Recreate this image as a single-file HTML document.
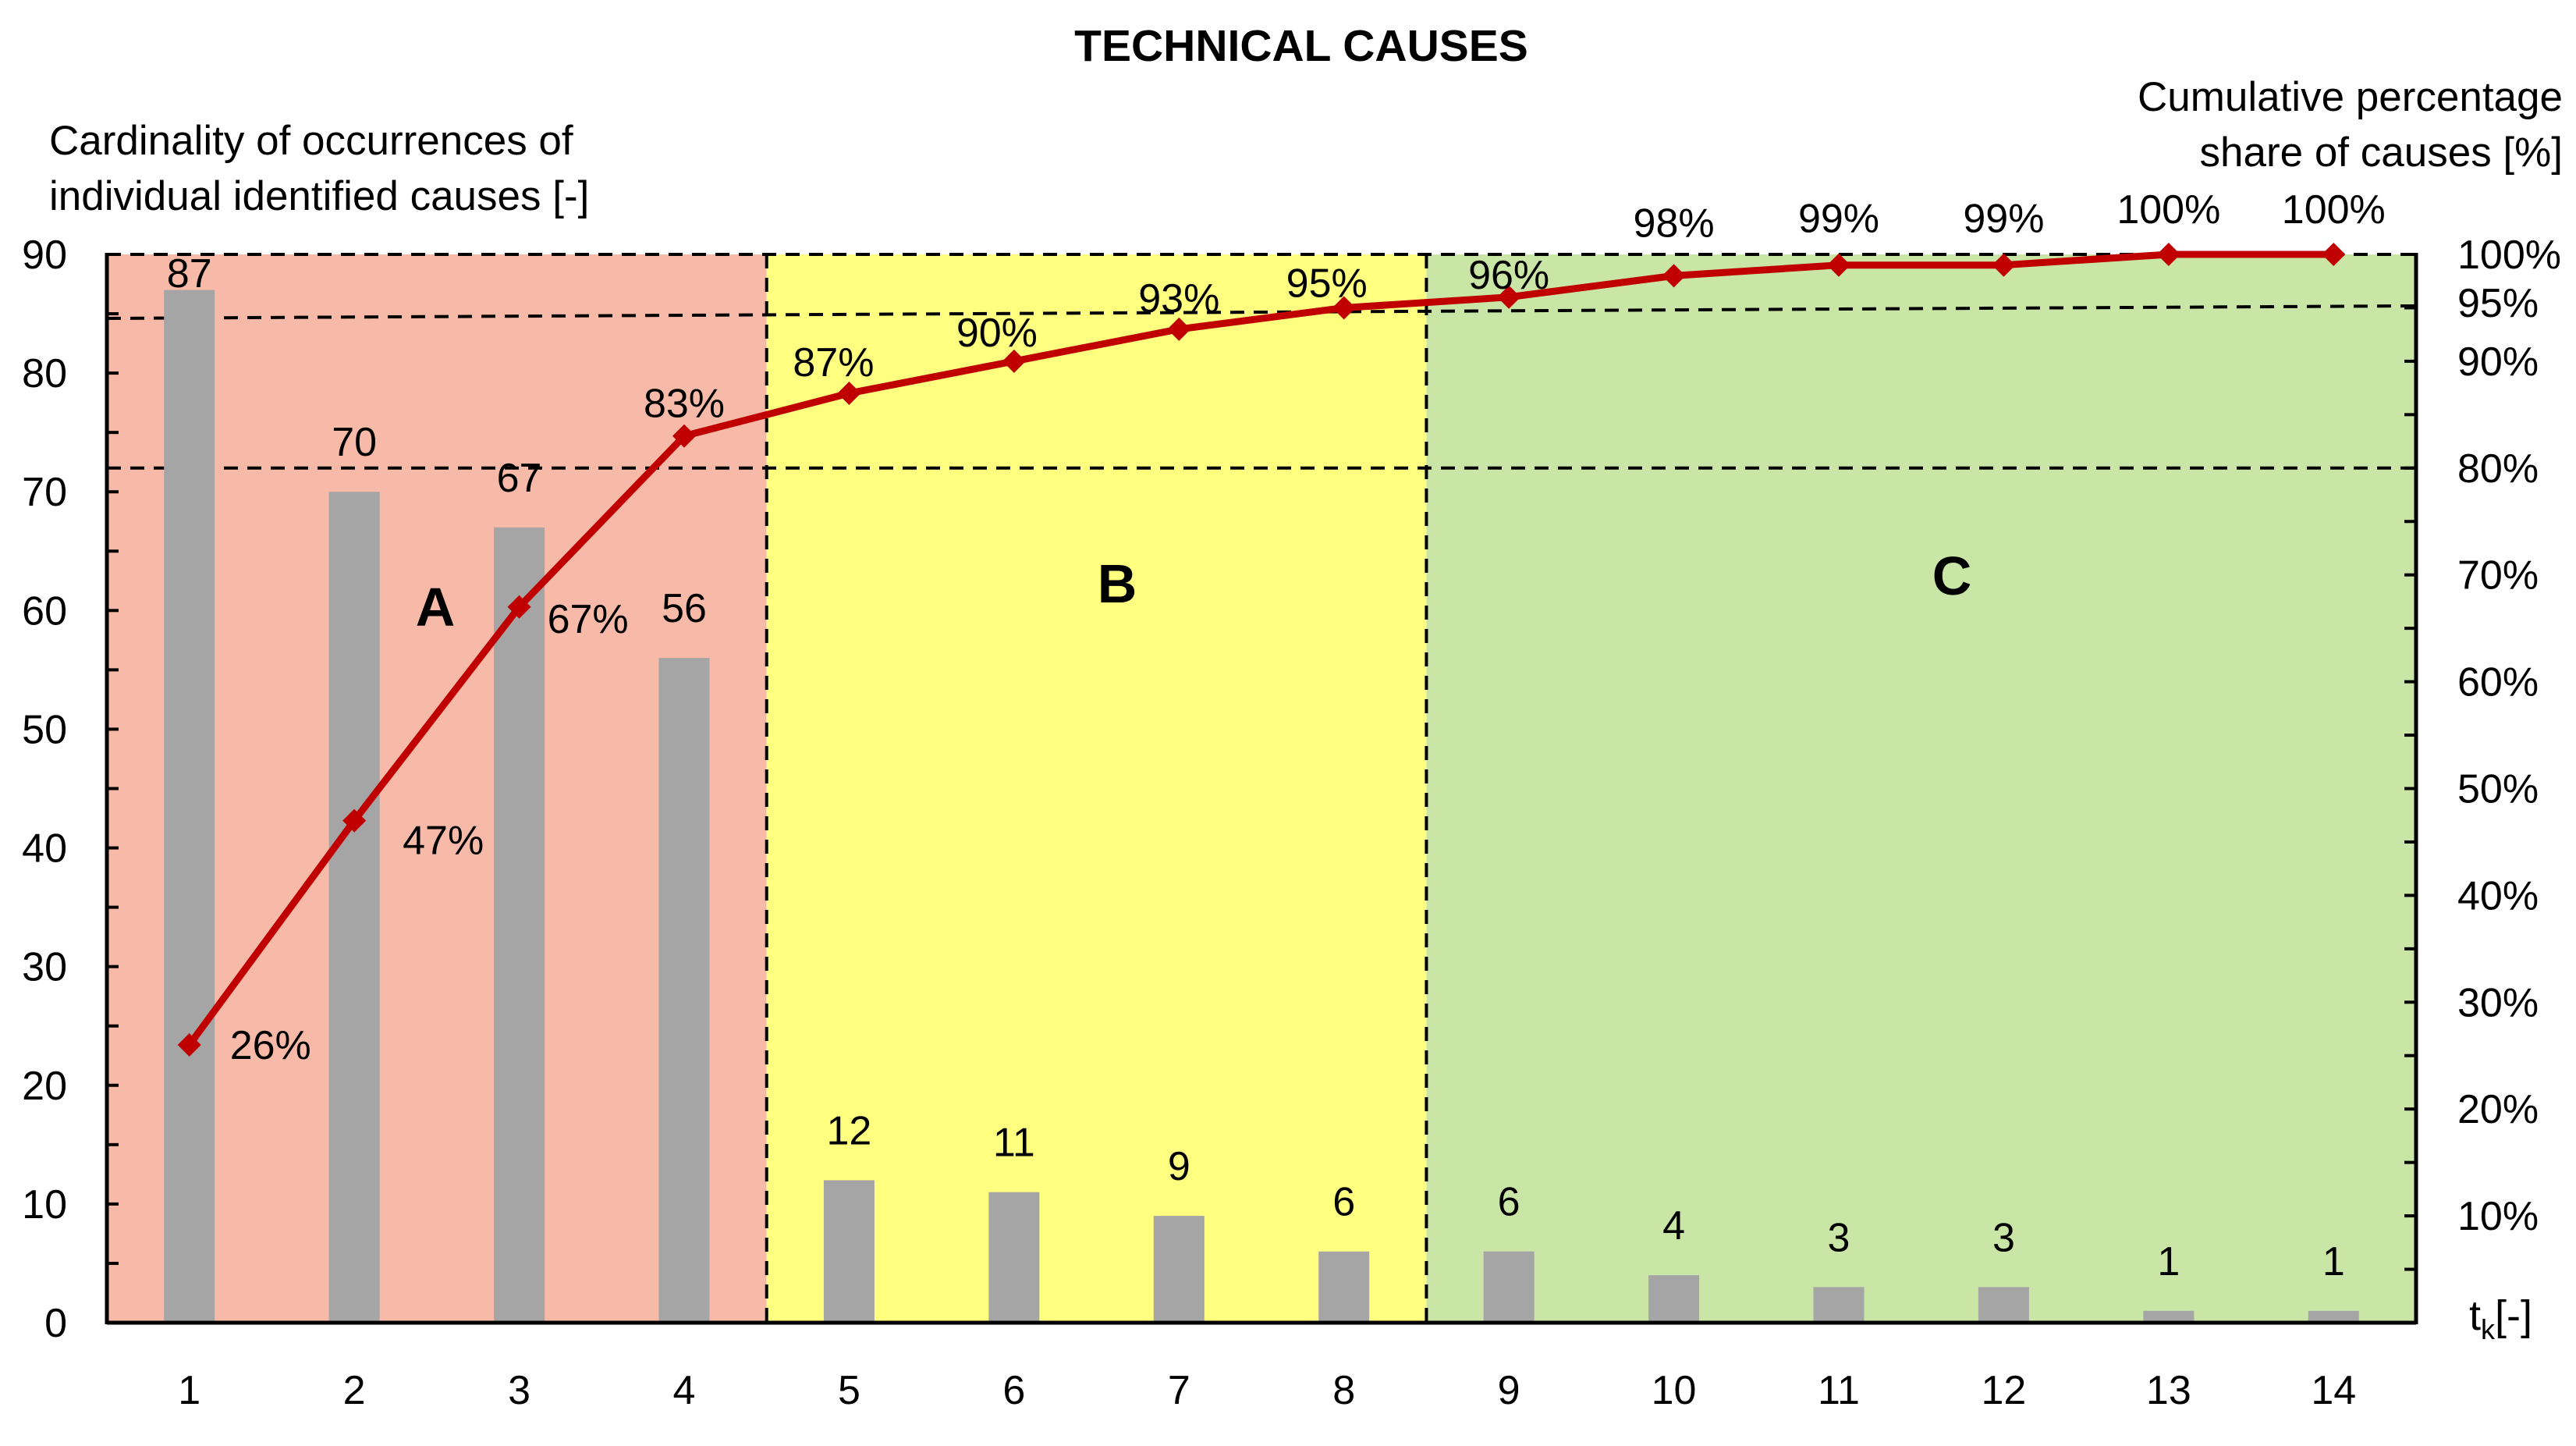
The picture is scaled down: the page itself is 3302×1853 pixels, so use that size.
<!DOCTYPE html>
<html><head><meta charset="utf-8"><style>
html,body{margin:0;padding:0;background:#fff}
svg{display:block;font-family:"Liberation Sans",Calibri,sans-serif}
</style></head><body>
<svg id="chart" width="3302" height="1853" viewBox="0 0 3302 1853">
<g id="regions"></g><g id="grid"></g><g id="bars"></g><g id="line"></g><g id="axes"></g><g id="labels"></g>
</svg>
<script>
const categories=[1,2,3,4,5,6,7,8,9,10,11,12,13,14];
const counts=[87,70,67,56,12,11,9,6,6,4,3,3,1,1];
const cumPct=[26,47,67,83,87,90,93,95,96,98,99,99,100,100];
const cumLabels=["26%","47%","67%","83%","87%","90%","93%","95%","96%","98%","99%","99%","100%","100%"];
const leftTicks=[0,10,20,30,40,50,60,70,80,90];
const rightTicks=[10,20,30,40,50,60,70,80,90,100];
const X0=137,X1=3097,Y0=1695,Y1=326,N=categories.length,cw=(X1-X0)/N;
const FS=52;
const xs=i=>X0+cw*(i+0.5);
const yL=v=>Y0-(v/90)*(Y0-Y1);
const yR=v=>Y0-(v/100)*(Y0-Y1);
const NS="http://www.w3.org/2000/svg";
function mk(par,tag,attrs,txt){const e=document.createElementNS(NS,tag);for(const k in attrs)e.setAttribute(k,attrs[k]);if(txt!==undefined)e.textContent=txt;document.getElementById(par).appendChild(e);return e;}
let r;
r=mk('regions','rect',{x:X0,y:Y1,width:cw*4,height:Y0-Y1,fill:'#F8BAA8'});


r=mk('regions','rect',{x:X0+cw*4,y:Y1,width:cw*4,height:Y0-Y1,fill:'#FFFF80'});


r=mk('regions','rect',{x:X0+cw*8,y:Y1,width:cw*6,height:Y0-Y1,fill:'#C9E6A6'});


const da={stroke:'#000','stroke-width':4,'stroke-dasharray':'18 12',fill:'none'};
let d;
d=mk('grid','line',Object.assign({x1:X0,y1:yR(80),x2:X1,y2:yR(80)},da));


d=mk('grid','line',Object.assign({x1:X0,y1:408,x2:X1,y2:392},da));


d=mk('grid','line',Object.assign({x1:X0,y1:Y1,x2:X1,y2:Y1},da));


d=mk('grid','line',Object.assign({x1:X0+cw*4,y1:Y1,x2:X0+cw*4,y2:Y0},da));


d=mk('grid','line',Object.assign({x1:X0+cw*8,y1:Y1,x2:X0+cw*8,y2:Y0},da));


counts.forEach((v,i)=>{
 const b=mk('bars','rect',{x:xs(i)-32.5,y:yL(v),width:65,height:Y0-yL(v),fill:'#A5A5A5'});
 
 
 const t=mk('labels','text',{x:xs(i),y:Math.max(yL(v)-46,368),'font-size':FS,'text-anchor':'middle'},String(v));
 
 
});
const pts=cumPct.map((v,i)=>xs(i)+','+yR(v)).join(' ');
const pl=mk('line','polyline',{points:pts,fill:'none',stroke:'#C00000','stroke-width':9,'stroke-linejoin':'round'});


const off=[[52,0,'start'],[62,25,'start'],[36,15,'start'],[0,-42,'middle'],[-20,-40,'middle'],[-22,-37,'middle'],[0,-40,'middle'],[-22,-32,'middle'],[0,-29,'middle'],[0,-68,'middle'],[0,-60,'middle'],[0,-60,'middle'],[0,-58,'middle'],[0,-58,'middle']];
cumPct.forEach((v,i)=>{
 const x=xs(i),y=yR(v);
 const m=mk('line','polygon',{points:`${x},${y-15} ${x+15},${y} ${x},${y+15} ${x-15},${y}`,fill:'#C00000'});
 
 
 const o=off[i];
 const t=mk('labels','text',{x:x+o[0],y:y+o[1]+18,'font-size':FS,'text-anchor':o[2]},cumLabels[i]);
 
 
});
const ax={stroke:'#000','stroke-width':5};
let a;
a=mk('axes','line',Object.assign({x1:X0,y1:Y1-2,x2:X0,y2:Y0+2},ax));


a=mk('axes','line',Object.assign({x1:X1,y1:Y1-2,x2:X1,y2:Y0+2},ax));


a=mk('axes','line',Object.assign({x1:X0,y1:Y0,x2:X1,y2:Y0},ax));


for(let v=0;v<=90;v+=5){mk('axes','line',{x1:X0,y1:yL(v),x2:X0+15,y2:yL(v),stroke:'#000','stroke-width':4});}
for(let v=0;v<=100;v+=5){mk('axes','line',{x1:X1-15,y1:yR(v),x2:X1,y2:yR(v),stroke:'#000','stroke-width':4});}
leftTicks.forEach(v=>{const t=mk('axes','text',{x:86,y:yL(v)+18,'font-size':FS,'text-anchor':'end'},String(v));
 
 });
rightTicks.forEach(v=>{const t=mk('axes','text',{x:3150,y:yR(v)+18,'font-size':FS},v+'%');
 
 });
let t95=mk('axes','text',{x:3150,y:406,'font-size':FS},'95%');


categories.forEach((c,i)=>{const t=mk('axes','text',{x:xs(i),y:1799,'font-size':FS,'text-anchor':'middle'},String(c));
 
 });
</script>
<div style="position:absolute;left:0;top:0;width:3302px;height:1853px;pointer-events:none">
<svg width="3302" height="1853" style="font-family:'Liberation Sans',sans-serif">
<text x="1668" y="78" font-size="57" font-weight="bold" text-anchor="middle">TECHNICAL CAUSES</text>
<text x="63" y="198" font-size="53">Cardinality of occurrences of</text>
<text x="63" y="269" font-size="53">individual identified causes [-]</text>
<text x="3285" y="142" font-size="53" text-anchor="end">Cumulative percentage</text>
<text x="3285" y="213" font-size="53" text-anchor="end">share of causes [%]</text>
<text x="3165" y="1704" font-size="54">t<tspan font-size="36" dy="12">k</tspan><tspan dy="-12">[-]</tspan></text>
<text x="558" y="802" font-size="70" font-weight="bold" text-anchor="middle">A</text>
<text x="1432" y="772" font-size="70" font-weight="bold" text-anchor="middle">B</text>
<text x="2502" y="762" font-size="70" font-weight="bold" text-anchor="middle">C</text>
</svg></div>
</body></html>
